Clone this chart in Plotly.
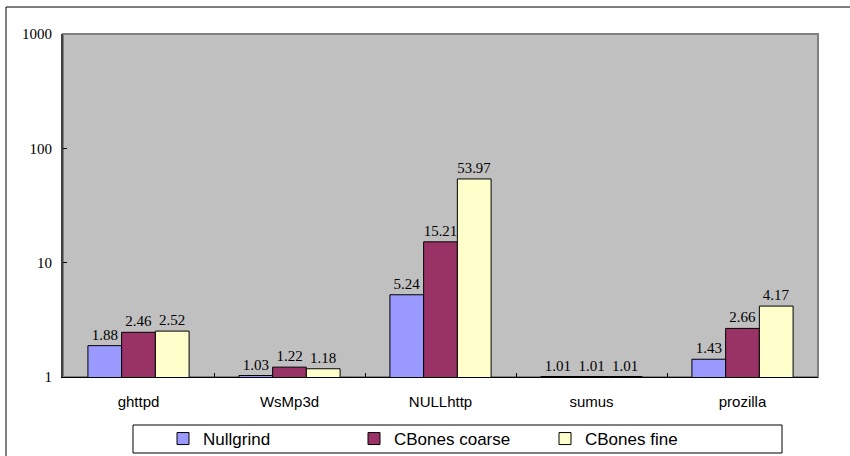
import plotly.graph_objects as go

categories = ["ghttpd", "WsMp3d", "NULLhttp", "sumus", "prozilla"]
series_names = ["Nullgrind", "CBones coarse", "CBones fine"]
nullgrind = [1.88, 1.03, 5.24, 1.01, 1.43]
cbones_coarse = [2.46, 1.22, 15.21, 1.01, 2.66]
cbones_fine = [2.52, 1.18, 53.97, 1.01, 4.17]
colors = ["#9999FF", "#993366", "#FFFFCC"]
y_ticks = [1, 10, 100, 1000]

L, R, T, B = 63, 32, 34, 79
W, H = 850, 456
pw, ph = W - L - R, H - T - B

def px_x(x):
    return (x - L) / pw

def px_y(y):
    return (H - B - y) / ph

fig = go.Figure()
for name, vals, col in zip(series_names, [nullgrind, cbones_coarse, cbones_fine], colors):
    fig.add_trace(go.Bar(
        x=categories, y=vals, name=name,
        marker=dict(color=col, line=dict(color="black", width=1)),
        text=[f"{v:.2f}" for v in vals], textposition="outside",
        textfont=dict(family="Liberation Serif", size=15, color="black"),
        cliponaxis=False,
    ))

fig.update_layout(
    width=W, height=H,
    margin=dict(l=L, r=R, t=T, b=B, autoexpand=False),
    paper_bgcolor="white",
    plot_bgcolor="#C0C0C0",
    barmode="group",
    bargap=0.33, bargroupgap=0,
    showlegend=True,
    legend=dict(
        orientation="h", x=px_x(163), y=px_y(421), xanchor="left", yanchor="top",
        bgcolor="rgba(0,0,0,0)", borderwidth=0,
        font=dict(family="Liberation Sans", size=17, color="black"),
        entrywidth=146, entrywidthmode="pixels",
        traceorder="normal",
    ),
    xaxis=dict(
        showgrid=False, showline=True, linecolor="black", linewidth=1,
        ticks="inside", ticklen=4, tickcolor="black", tickson="boundaries",
        tickfont=dict(family="Liberation Sans", size=15, color="black"),
        ticklabelstandoff=11,
    ),
    yaxis=dict(
        type="log", range=[0, 3], tickvals=y_ticks, ticktext=[str(v) for v in y_ticks],
        showgrid=False, showline=True, linecolor="#404040", linewidth=2,
        ticks="inside", ticklen=4, tickcolor="black",
        tickfont=dict(family="Liberation Serif", size=15, color="black"),
        ticklabelstandoff=6, zeroline=False,
    ),
    shapes=[
        dict(type="rect", xref="paper", yref="paper", x0=0, x1=1, y0=0, y1=1,
             line=dict(color="#808080", width=2), layer="below"),
        dict(type="rect", xref="paper", yref="paper",
             x0=px_x(6), x1=px_x(900), y0=px_y(520), y1=px_y(7),
             line=dict(color="black", width=1)),
        dict(type="rect", xref="paper", yref="paper",
             x0=px_x(133), x1=px_x(782), y0=px_y(453), y1=px_y(425),
             line=dict(color="black", width=1), fillcolor="white", layer="below"),
    ],
)

fig.write_html("out.html")
